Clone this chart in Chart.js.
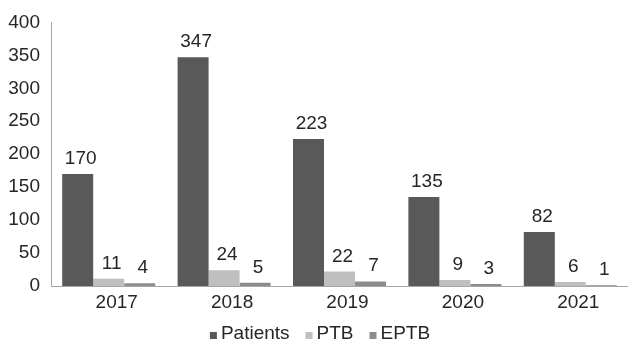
<!DOCTYPE html>
<html>
<head>
<meta charset="utf-8">
<script src="https://cdn.jsdelivr.net/npm/chart.js@4.4.0/dist/chart.umd.min.js"></script>
<style>
  html, body { margin: 0; padding: 0; background: #fff; }
  #wrap { width: 628px; height: 346px; position: relative; }
</style>
</head>
<body>
<div id="wrap"><canvas id="tbChart"></canvas></div>
<script>
const years = ["2017", "2018", "2019", "2020", "2021"];
const patients = [170, 347, 223, 135, 82];
const ptb = [11, 24, 22, 9, 6];
const eptb = [4, 5, 7, 3, 1];
const yTicks = [0, 50, 100, 150, 200, 250, 300, 350, 400];

const FONT = "'Liberation Sans', Arial, sans-serif";
const TEXT = "#262626";

// value labels above each bar
const barLabels = {
  id: "barLabels",
  afterDatasetsDraw(chart) {
    const ctx = chart.ctx;
    ctx.save();
    ctx.font = "19px " + FONT;
    ctx.fillStyle = TEXT;
    ctx.textAlign = "center";
    ctx.textBaseline = "alphabetic";
    chart.data.datasets.forEach((ds, i) => {
      chart.getDatasetMeta(i).data.forEach((bar, j) => {
        ctx.fillText(String(ds.data[j]), bar.x + 3, bar.y - 10);
      });
    });
    ctx.restore();
  }
};

// legend drawn by hand: small square sitting on the text baseline
const bottomLegend = {
  id: "bottomLegend",
  afterDraw(chart) {
    const ctx = chart.ctx;
    const box = 7, gapIn = 4, gapOut = 16, baseline = 339, center = 320;
    ctx.save();
    ctx.font = "19px " + FONT;
    ctx.textBaseline = "alphabetic";
    ctx.textAlign = "left";
    const items = chart.data.datasets.map(ds => ({
      text: ds.label, color: ds.backgroundColor, w: ctx.measureText(ds.label).width
    }));
    let total = items.reduce((s, it) => s + box + gapIn + it.w, 0) + gapOut * (items.length - 1);
    let x = center - total / 2;
    items.forEach(it => {
      ctx.fillStyle = it.color;
      ctx.fillRect(x, baseline - box, box, box);
      x += box + gapIn;
      ctx.fillStyle = TEXT;
      ctx.fillText(it.text, x, baseline);
      x += it.w + gapOut;
    });
    ctx.restore();
  }
};

new Chart(document.getElementById("tbChart"), {
  type: "bar",
  data: {
    labels: years,
    datasets: [
      { label: "Patients", data: patients, backgroundColor: "#595959" },
      { label: "PTB", data: ptb, backgroundColor: "#bfbfbf" },
      { label: "EPTB", data: eptb, backgroundColor: "#8c8c8c" }
    ]
  },
  options: {
    responsive: true,
    maintainAspectRatio: false,
    animation: false,
    layout: { padding: { top: 18, right: 0, left: 0, bottom: 0 } },
    datasets: {
      bar: { categoryPercentage: 0.806, barPercentage: 1.0 }
    },
    plugins: {
      legend: { display: false },
      tooltip: { enabled: false }
    },
    scales: {
      x: {
        grid: { display: false, drawTicks: false },
        border: { display: true, color: "#a6a6a6", width: 1 },
        ticks: {
          color: TEXT,
          font: { family: FONT, size: 19 },
          padding: 5,
          labelOffset: 8,
          maxRotation: 0
        },
        afterFit(scale) { scale.height = 60; }
      },
      y: {
        min: 0,
        max: 400,
        grid: { display: false, drawTicks: false },
        border: { display: true, color: "#a6a6a6", width: 1 },
        afterBuildTicks(scale) { scale.ticks = yTicks.map(v => ({ value: v })); },
        ticks: {
          color: TEXT,
          font: { family: FONT, size: 19 },
          padding: 11
        },
        afterFit(scale) { scale.width = 51; }
      }
    }
  },
  plugins: [barLabels, bottomLegend]
});
</script>
</body>
</html>
